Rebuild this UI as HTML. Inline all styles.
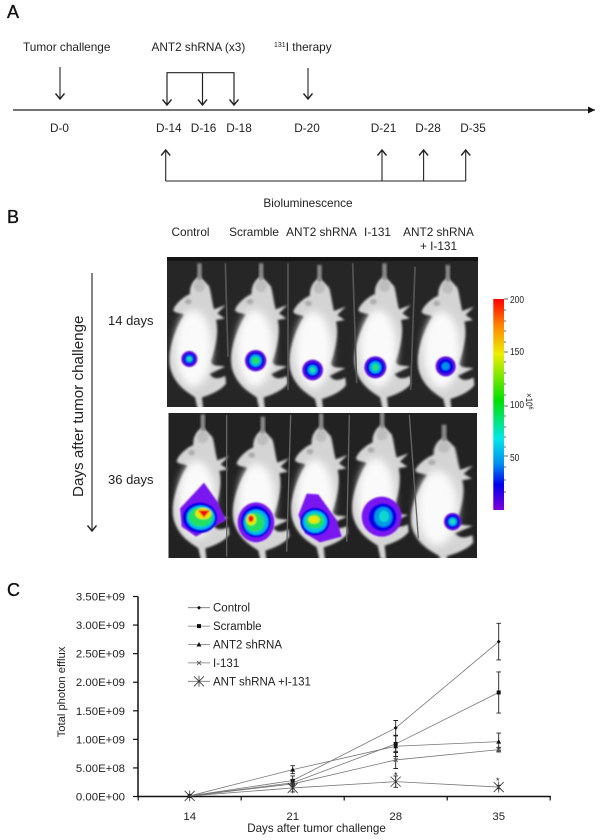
<!DOCTYPE html>
<html lang="en">
<head>
<meta charset="utf-8">
<title>Tumor bioluminescence figure</title>
<style>
html,body{margin:0;padding:0;background:#fff;width:600px;height:840px;overflow:hidden}
svg{display:block}
text{font-family:"Liberation Sans",Arial,sans-serif;fill:#222}
.a{font-size:11.8px}
.m{text-anchor:middle}
.p{font-size:18px;fill:#111;stroke:#111;stroke-width:.35px}
</style>
</head>
<body>
<svg id="figure" xmlns="http://www.w3.org/2000/svg" width="600" height="840" viewBox="0 0 600 840">
<defs>
<marker id="ah" markerWidth="12" markerHeight="12" refX="9" refY="5" orient="auto" markerUnits="userSpaceOnUse">
<path d="M3.5,0.5 L9,5 L3.5,9.5" fill="none" stroke="#222" stroke-width="1.4"/>
</marker>
<marker id="ahf" markerWidth="8" markerHeight="8" refX="7" refY="4" orient="auto" markerUnits="userSpaceOnUse">
<path d="M0,0.5 L7,4 L0,7.5 Z" fill="#111"/>
</marker>
<filter id="b1" x="-20%" y="-20%" width="140%" height="140%"><feGaussianBlur stdDeviation="3.5"/></filter>
<filter id="b2" x="-30%" y="-30%" width="160%" height="160%"><feGaussianBlur stdDeviation="12"/></filter>
<filter id="b3" x="-20%" y="-20%" width="140%" height="140%"><feGaussianBlur stdDeviation="2.5"/></filter>
<linearGradient id="scale" x1="0" y1="0" x2="0" y2="1">
<stop offset="0" stop-color="#ff0000"/><stop offset=".13" stop-color="#ff8800"/><stop offset=".26" stop-color="#eeee00"/>
<stop offset=".48" stop-color="#00e000"/><stop offset=".66" stop-color="#00e8e8"/><stop offset=".78" stop-color="#0090f0"/>
<stop offset=".88" stop-color="#0000ee"/><stop offset="1" stop-color="#8000d8"/>
</linearGradient>
<clipPath id="top-clip"><rect x="167" y="257" width="311" height="150"/></clipPath>
<clipPath id="bot-clip"><rect x="168.5" y="413" width="308.5" height="145"/></clipPath>
<g id="mouse">
<path d="M118,78 C98,90 88,112 90,132 C70,140 42,165 40,182 C50,192 62,188 72,195 C45,240 22,300 30,350 C42,405 85,428 105,442 L114,482 L130,482 L126,442 C150,435 185,420 198,400 L196,378 C170,390 158,385 148,372 C172,362 190,352 196,350 C170,345 158,350 152,335 C170,285 176,240 168,210 L194,205 L172,190 L197,165 L162,178 C155,150 152,120 147,108 Z" fill="#d4d4d4" filter="url(#b1)"/>
<ellipse cx="100" cy="295" rx="55" ry="115" fill="#fafafa" filter="url(#b2)"/>
<ellipse cx="118" cy="108" rx="17" ry="18" fill="#bdbdbd" filter="url(#b1)"/>
<rect x="112" y="40" width="13" height="50" fill="#8c8c8c" filter="url(#b1)"/>
<ellipse cx="85" cy="155" rx="10" ry="8" fill="#aaa" filter="url(#b1)"/>
</g>
</defs>

<g id="panel-a">
<text class="p" x="7" y="18">A</text>
<text class="a" x="23" y="51">Tumor challenge</text>
<text class="a" x="151.5" y="51">ANT2 shRNA (x3)</text>
<text class="a" x="274" y="51"><tspan font-size="7" dy="-4">131</tspan><tspan dy="4">I therapy</tspan></text>
<g fill="none" stroke="#222" stroke-width="1.1">
<line x1="13" y1="110" x2="595" y2="110" stroke-width="1.2" marker-end="url(#ahf)"/>
<line x1="60" y1="67" x2="60" y2="99" marker-end="url(#ah)"/>
<path d="M167,105 V72.7 H234 V105 M202.5,72.7 V105"/>
<line x1="167" y1="72.7" x2="167" y2="105" marker-end="url(#ah)"/>
<line x1="202.5" y1="72.7" x2="202.5" y2="105" marker-end="url(#ah)"/>
<line x1="234" y1="72.7" x2="234" y2="105" marker-end="url(#ah)"/>
<line x1="308" y1="68" x2="308" y2="99" marker-end="url(#ah)"/>
<path d="M165.7,181 H465.7"/>
<line x1="165.7" y1="181" x2="165.7" y2="150" marker-end="url(#ah)"/>
<line x1="382" y1="181" x2="382" y2="150" marker-end="url(#ah)"/>
<line x1="423.6" y1="181" x2="423.6" y2="150" marker-end="url(#ah)"/>
<line x1="465.7" y1="181" x2="465.7" y2="150" marker-end="url(#ah)"/>
</g>
<g>
<text class="a m" x="59.5" y="132">D-0</text>
<text class="a m" x="168.8" y="132">D-14</text>
<text class="a m" x="203.6" y="132">D-16</text>
<text class="a m" x="239" y="132">D-18</text>
<text class="a m" x="307" y="132">D-20</text>
<text class="a m" x="383.5" y="132">D-21</text>
<text class="a m" x="428" y="132">D-28</text>
<text class="a m" x="473" y="132">D-35</text>
</g>
<text class="a m" x="308" y="207">Bioluminescence</text>
</g>

<g id="panel-b">
<text class="p" x="7" y="223">B</text>
<text class="a m" x="190.5" y="236">Control</text>
<text class="a m" x="254" y="236">Scramble</text>
<text class="a m" x="321.5" y="236">ANT2 shRNA</text>
<text class="a m" x="377.5" y="236">I-131</text>
<text class="a m" x="438.5" y="236">ANT2 shRNA</text>
<text class="a m" x="438.5" y="250">+ I-131</text>
<text transform="translate(83,497) rotate(-90)" font-size="15.2">Days after tumor challenge</text>
<line x1="92" y1="273" x2="92" y2="531" stroke="#333" stroke-width="1.2" marker-end="url(#ah)"/>
<text x="108" y="325" font-size="13">14 days</text>
<text x="108" y="484" font-size="13">36 days</text>

<g clip-path="url(#top-clip)">
<rect x="167" y="257" width="311" height="150" fill="#262626"/>
<rect x="167" y="257" width="311" height="4" fill="#141414"/>
<g transform="translate(160,250) scale(.33333)">
<use href="#mouse"/>
<use href="#mouse" transform="translate(185,0)"/>
<use href="#mouse" transform="translate(360,5)"/>
<use href="#mouse" transform="translate(555,0)"/>
<use href="#mouse" transform="translate(745,5)"/>
<path d="M196,40 L204,320 M384,40 L384,420 M578,40 L590,400 M765,50 L752,420" stroke="#555" stroke-width="5" fill="none"/>
<g filter="url(#b3)">
<g transform="translate(88,327)"><circle r="24" fill="#5a10e0"/><circle r="17" fill="#0000e8"/><circle r="11" fill="#00a0e8"/><circle r="6" fill="#20e0a0"/></g>
<g transform="translate(287,332)"><circle r="32" fill="#5a10e0"/><circle r="25" fill="#0000e8"/><circle r="18" fill="#00b0e8"/><circle r="11" fill="#20e060"/></g>
<g transform="translate(458,360)"><circle r="31" fill="#5a10e0"/><circle r="23" fill="#0000e8"/><circle r="15" fill="#00a8e8"/><circle r="8" fill="#20e0a0"/></g>
<g transform="translate(646,352)"><circle r="33" fill="#5a10e0"/><circle r="26" fill="#0000e8"/><circle r="18" fill="#00b0e8"/><circle r="10" fill="#20e080"/></g>
<g transform="translate(857,349)"><circle r="30" fill="#5a10e0"/><circle r="22" fill="#0000e8"/><circle r="12" fill="#0090e8"/></g>
</g>
</g>
</g>

<g clip-path="url(#bot-clip)">
<rect x="168" y="413" width="310" height="146" fill="#222"/>
<g transform="translate(160,405) scale(.33333)">
<use href="#mouse" transform="translate(10,-12)"/>
<use href="#mouse" transform="translate(190,-5)"/>
<use href="#mouse" transform="translate(365,-15)"/>
<use href="#mouse" transform="translate(548,-20)"/>
<use href="#mouse" transform="translate(722,20) scale(1.1,.98)"/>
<path d="M200,30 V455 M392,30 L380,440 M568,30 L560,410 M748,30 L775,400" stroke="#666" stroke-width="4" fill="none"/>
<g filter="url(#b3)">
<g>
<path d="M132,233 L60,310 L65,365 L108,395 L198,345 L172,290 Z" fill="#7a18f0"/>
<ellipse cx="120" cy="338" rx="52" ry="46" fill="#0000e8"/>
<ellipse cx="122" cy="338" rx="42" ry="36" fill="#00c0e8"/>
<ellipse cx="122" cy="336" rx="36" ry="29" fill="#20e060"/>
<ellipse cx="130" cy="326" rx="24" ry="17" fill="#e8e800"/>
<path d="M114,316 L150,316 L132,338 Z" fill="#f01010"/>
</g>
<g>
<ellipse cx="288" cy="352" rx="55" ry="60" fill="#7a18f0"/>
<ellipse cx="288" cy="350" rx="45" ry="48" fill="#0000e8"/>
<ellipse cx="288" cy="352" rx="37" ry="38" fill="#00b8e8"/>
<ellipse cx="285" cy="352" rx="28" ry="29" fill="#20e060"/>
<ellipse cx="274" cy="344" rx="15" ry="17" fill="#e8e800"/>
<ellipse cx="273" cy="341" rx="8" ry="10" fill="#f01010"/>
</g>
<g>
<path d="M440,266 L475,268 L530,345 L545,395 L480,412 L435,385 L415,330 Z" fill="#7a18f0"/>
<ellipse cx="465" cy="350" rx="44" ry="42" fill="#0000e8"/>
<ellipse cx="465" cy="350" rx="36" ry="33" fill="#00c0e8"/>
<ellipse cx="465" cy="348" rx="27" ry="23" fill="#20e060"/>
<ellipse cx="462" cy="344" rx="17" ry="12" fill="#e8e800"/>
</g>
<g>
<ellipse cx="665" cy="335" rx="60" ry="60" fill="#7a18f0"/>
<ellipse cx="668" cy="337" rx="42" ry="42" fill="#0000e8"/>
<ellipse cx="670" cy="336" rx="27" ry="30" fill="#0098e8"/>
<ellipse cx="672" cy="334" rx="15" ry="17" fill="#10d8d0"/>
</g>
<g transform="translate(878,350)"><circle r="26" fill="#5a10e0"/><circle r="20" fill="#0000e8"/><circle r="13" fill="#00b0e8"/><circle r="7" fill="#20e0b0"/></g>
</g>
</g>
</g>

<g>
<rect x="493.3" y="299" width="10.7" height="211" fill="url(#scale)"/>
<path d="M504,299 h4 M504,352 h4 M504,406 h4 M504,456 h4 M504,310 h2 M504,321 h2 M504,331 h2 M504,342 h2 M504,362 h2 M504,373 h2 M504,384 h2 M504,395 h2 M504,416 h2 M504,427 h2 M504,437 h2 M504,447 h2 M504,467 h2 M504,480 h2 M504,492 h2" stroke="#333" stroke-width=".8"/>
<g font-size="10.5">
<text transform="translate(510,303) scale(.8,1)">200</text>
<text transform="translate(510,355) scale(.8,1)">150</text>
<text transform="translate(510,408) scale(.8,1)">100</text>
<text transform="translate(510,461) scale(.8,1)">50</text>
</g>
<text transform="translate(526,393) rotate(90) scale(.85,1)" font-size="9.5">×10<tspan font-size="6" dy="-3">6</tspan></text>
</g>
</g>

<g id="panel-c">
<text class="p" x="7" y="596">C</text>
<text transform="translate(65,692) rotate(-90)" class="m" font-size="11.2">Total photon efflux</text>
<text class="m" x="316.5" y="832" font-size="11.6">Days after tumor challenge</text>
<g id="chart-axes"></g>
<g id="chart-series"></g>
<g id="chart-legend"></g>
</g>
</svg>

<script>
var categories = [14, 21, 28, 35];
var yTickValues = [0, 5e8, 1e9, 1.5e9, 2e9, 2.5e9, 3e9, 3.5e9];
var yTickLabels = ["0.00E+00", "5.00E+08", "1.00E+09", "1.50E+09", "2.00E+09", "2.50E+09", "3.00E+09", "3.50E+09"];
var seriesNames = ["Control", "Scramble", "ANT2 shRNA", "I-131", "ANT shRNA +I-131"];
var controlValues = [0.01e9, 0.28e9, 1.20e9, 2.71e9];
var controlErrors = [0, 0.08e9, 0.13e9, 0.32e9];
var scrambleValues = [0.01e9, 0.24e9, 0.92e9, 1.82e9];
var scrambleErrors = [0, 0.06e9, 0.15e9, 0.36e9];
var shrnaValues = [0.01e9, 0.47e9, 0.88e9, 0.96e9];
var shrnaErrors = [0, 0.07e9, 0.18e9, 0.15e9];
var i131Values = [0.01e9, 0.22e9, 0.64e9, 0.82e9];
var i131Errors = [0, 0.07e9, 0.15e9, 0.04e9];
var comboValues = [0.01e9, 0.15e9, 0.26e9, 0.165e9];
var comboErrors = [0, 0.07e9, 0.10e9, 0.03e9];
var significanceDays = [28, 35];
var significanceValues = [0.42e9, 0.32e9];

var NS = "http://www.w3.org/2000/svg";
function mk(tag, attrs, parent) {
  var e = document.createElementNS(NS, tag);
  for (var k in attrs) e.setAttribute(k, attrs[k]);
  parent.appendChild(e);
  return e;
}
function xScale(day) { return 189.7 + (day - 14) * (103 / 7); }
function yScale(v) { return 796.5 - v * (200 / 3.5e9); }
var axes = document.getElementById("chart-axes");
var seriesLayer = document.getElementById("chart-series");
var legendLayer = document.getElementById("chart-legend");

var yAxis = mk("line", {x1: 138, y1: yScale(3.5e9), x2: 138, y2: yScale(0), stroke: "#111", "stroke-width": 1.5}, axes);


var xEnd = xScale(35) + 103 / 2;
var xAxis = mk("line", {x1: 137, y1: yScale(0), x2: xEnd + 0.7, y2: yScale(0), stroke: "#111", "stroke-width": 1.5}, axes);



yTickValues.forEach(function (v, i) {
  mk("line", {x1: 133, y1: yScale(v), x2: 138, y2: yScale(v), stroke: "#111", "stroke-width": 1.2}, axes);
  var t = mk("text", {x: 125, y: yScale(v) + 4, "text-anchor": "end", "font-size": 11.4}, axes);
  
  
  t.textContent = yTickLabels[i];
});
categories.forEach(function (d, i) {
  var bx = xScale(d) - 103 / 2;
  mk("line", {x1: bx, y1: yScale(0), x2: bx, y2: yScale(0) + 4, stroke: "#111", "stroke-width": 1.2}, axes);
  if (i === categories.length - 1) {
    mk("line", {x1: bx + 103, y1: yScale(0), x2: bx + 103, y2: yScale(0) + 4, stroke: "#111", "stroke-width": 1.2}, axes);
  }
  var t = mk("text", {x: xScale(d), y: 820, "text-anchor": "middle", "font-size": 11.4}, axes);
  
  
  t.textContent = d;
});

function drawMarker(kind, cx, cy, parent) {
  if (kind === 0) {
    mk("path", {d: "M" + cx + "," + (cy - 2) + " l2,2 l-2,2 l-2,-2 Z", fill: "#111"}, parent);
  } else if (kind === 1) {
    mk("rect", {x: cx - 2, y: cy - 2, width: 4, height: 4, fill: "#111"}, parent);
  } else if (kind === 2) {
    mk("path", {d: "M" + cx + "," + (cy - 2.5) + " l2.5,4.5 h-5 Z", fill: "#111"}, parent);
  } else if (kind === 3) {
    mk("path", {d: "M" + (cx - 2) + "," + (cy - 2) + " l4,4 M" + (cx + 2) + "," + (cy - 2) + " l-4,4", stroke: "#555", "stroke-width": 0.9, fill: "none"}, parent);
  } else {
    mk("path", {d: "M" + (cx - 5) + "," + (cy - 5) + " l10,10 M" + (cx + 5) + "," + (cy - 5) + " l-10,10 M" + cx + "," + (cy - 5.5) + " v11", stroke: "#333", "stroke-width": 0.8, fill: "none"}, parent);
  }
}

var allValues = [controlValues, scrambleValues, shrnaValues, i131Values, comboValues];
var allErrors = [controlErrors, scrambleErrors, shrnaErrors, i131Errors, comboErrors];
allValues.forEach(function (vals, s) {
  var g = mk("g", {}, seriesLayer);
  
  
  var pts = vals.map(function (v, i) { return xScale(categories[i]) + "," + yScale(v); }).join(" ");
  mk("polyline", {points: pts, fill: "none", stroke: "#777", "stroke-width": 0.8}, g);
  vals.forEach(function (v, i) {
    var cx = xScale(categories[i]);
    var err = allErrors[s][i];
    if (err > 0) {
      var top = yScale(v + err);
      var bot = yScale(v - err);
      mk("path", {d: "M" + cx + "," + top + " V" + bot + " M" + (cx - 2.3) + "," + top + " h4.6 M" + (cx - 2.3) + "," + bot + " h4.6", stroke: "#222", "stroke-width": 0.9, fill: "none"}, g);
    }
    drawMarker(s, cx, yScale(v), g);
  });
});

significanceDays.forEach(function (d, i) {
  var t = mk("text", {x: xScale(d) - (i === 1 ? 1 : 0), y: yScale(significanceValues[i]) + 6, "text-anchor": "middle", "font-size": 9}, seriesLayer);
  
  
  t.textContent = "*";
});

seriesNames.forEach(function (name, i) {
  var ly = 607.7 + i * 18.4;
  var g = mk("g", {}, legendLayer);
  
  
  mk("line", {x1: 188, y1: ly, x2: 210, y2: ly, stroke: "#777", "stroke-width": 0.8}, g);
  drawMarker(i, 199, ly, g);
  var t = mk("text", {x: 213, y: ly + 4, "font-size": 11.5}, g);
  t.textContent = name;
});
</script>
</body>
</html>
